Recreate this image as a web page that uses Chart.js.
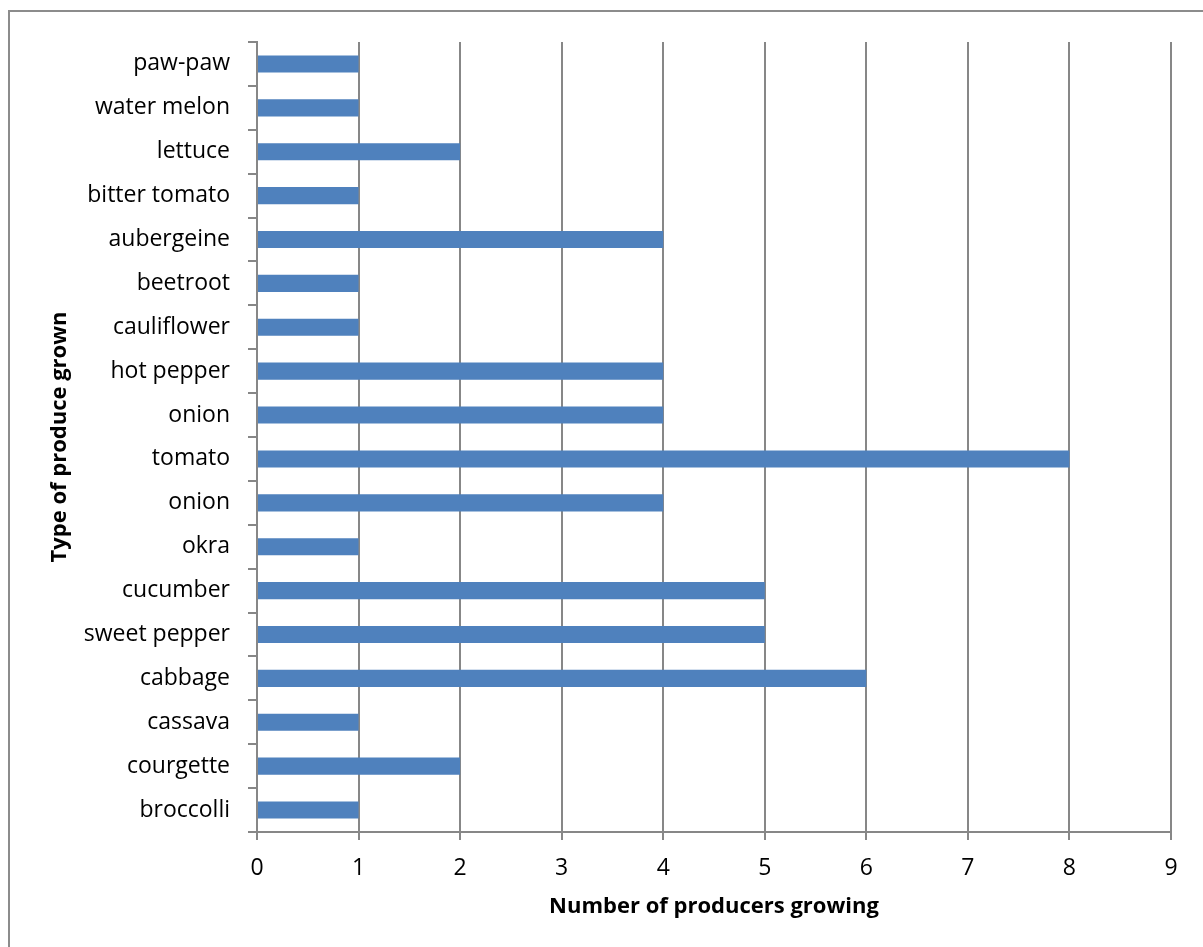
<!DOCTYPE html>
<html>
<head>
<meta charset="utf-8">
<title>Type of produce grown</title>
<script src="https://cdn.jsdelivr.net/npm/chart.js@4.4.1/dist/chart.umd.min.js"></script>
<style>
  html, body { margin: 0; padding: 0; background: #ffffff; overflow: hidden; }
  canvas { display: block; }
</style>
</head>
<body>
<canvas id="chart" width="1203" height="947"></canvas>
<script>
// Produce types, listed from the bottom of the axis upwards
const produce = [
  'broccolli', 'courgette', 'cassava', 'cabbage', 'sweet pepper', 'cucumber',
  'okra', 'onion', 'tomato', 'onion', 'hot pepper', 'cauliflower',
  'beetroot', 'aubergeine', 'bitter tomato', 'lettuce', 'water melon', 'paw-paw'
];
// Number of producers growing each type
const producers = [1, 2, 1, 6, 5, 5, 1, 4, 8, 4, 4, 1, 1, 4, 1, 2, 1, 1];
// Value axis range
const axisMin = 0;
const axisMax = 9;

const FONT = '"Open Sans", "DejaVu Sans", sans-serif';
const GRID = '#878787';

// Grey frame around the whole chart
const framePlugin = {
  id: 'frame',
  beforeDraw(chart) {
    const ctx = chart.ctx;
    ctx.save();
    ctx.fillStyle = '#ffffff';
    ctx.fillRect(0, 0, chart.width, chart.height);
    ctx.strokeStyle = '#8c8c8c';
    ctx.lineWidth = 2;
    ctx.strokeRect(9, 11, chart.width + 100, chart.height + 100);
    ctx.restore();
  }
};

new Chart(document.getElementById('chart'), {
  type: 'bar',
  data: {
    labels: produce,
    datasets: [{
      data: producers,
      backgroundColor: '#4f81bd',
      borderWidth: 0,
      categoryPercentage: 1,
      barPercentage: 0.39
    }]
  },
  options: {
    indexAxis: 'y',
    responsive: false,
    animation: false,
    layout: { padding: { left: 0, top: 42, right: 32, bottom: 0 } },
    plugins: {
      legend: { display: false },
      tooltip: { enabled: false }
    },
    scales: {
      x: {
        min: axisMin,
        max: axisMax,
        afterFit(scale) { scale.height = 115; },
        ticks: {
          stepSize: 1,
          color: '#000000',
          padding: 15,
          font: { family: FONT, size: 23 }
        },
        grid: {
          color: GRID,
          lineWidth: 2,
          tickLength: 8,
          drawTicks: true
        },
        border: { color: GRID, width: 2 },
        title: {
          display: true,
          text: 'Number of producers growing',
          color: '#000000',
          padding: { top: 0, bottom: 27 },
          font: { family: FONT, size: 22, weight: 'bold' }
        }
      },
      y: {
        reverse: true,
        afterFit(scale) { scale.width = 257; },
        ticks: {
          color: '#000000',
          padding: 18,
          autoSkip: false,
          font: { family: FONT, size: 23 }
        },
        grid: {
          color: GRID,
          lineWidth: 2,
          drawOnChartArea: false,
          drawTicks: true,
          tickLength: 9,
          offset: true
        },
        border: { color: GRID, width: 2 },
        title: {
          display: true,
          text: 'Type of produce grown',
          color: '#000000',
          padding: { top: 47, bottom: 0 },
          font: { family: FONT, size: 22, weight: 'bold' }
        }
      }
    }
  },
  plugins: [framePlugin]
});
</script>
</body>
</html>
